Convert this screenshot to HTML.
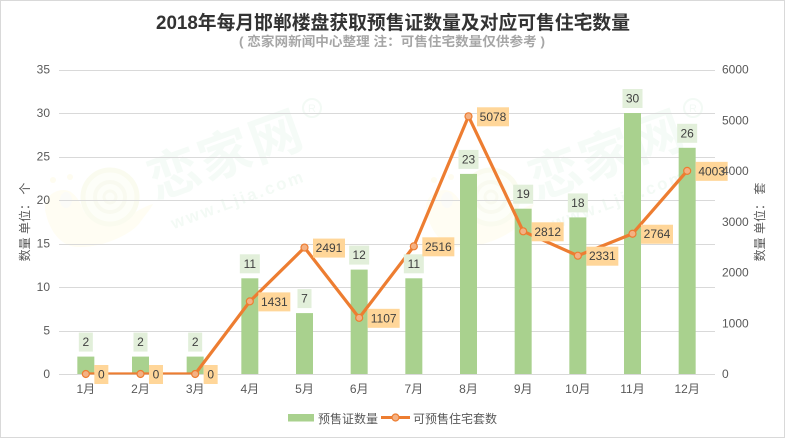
<!DOCTYPE html>
<html lang="zh">
<head>
<meta charset="utf-8">
<title>2018年每月邯郸楼盘获取预售证数量及对应可售住宅数量</title>
<style>
html,body{margin:0;padding:0;background:#fff}
svg{display:block}
text{font-family:"Liberation Sans","Noto Sans CJK SC",sans-serif}
</style>
</head>
<body>
<svg id="chart" xmlns="http://www.w3.org/2000/svg" width="785" height="438" viewBox="0 0 785 438">
<rect x="0.5" y="0.5" width="784" height="437" fill="#fff" stroke="#d9d9d9"/>
<defs>
<g id="wm">
<path d="M64 190 C50 190 42 202 46 214 C50 232 62 247 78 247 C105 248 135 232 141 221 C147 213 152 207 153 204 C145 206 136 212 128 216 Q100 225 84 212 Q76 190 64 190Z" fill="#fffdf3"/>
<circle cx="110" cy="197" r="27" fill="#fdfef8" stroke="#fafbef" stroke-width="5"/>
<circle cx="110" cy="197" r="15" fill="none" stroke="#f9faf0" stroke-width="4"/>
<circle cx="110" cy="197" r="6" fill="none" stroke="#f9faf0" stroke-width="3"/>
<circle cx="53" cy="180" r="3" fill="#fefcf0"/>
<circle cx="70" cy="177" r="3" fill="#fefcf0"/>
<ellipse cx="66" cy="200" rx="6" ry="8" fill="#fbfbf8"/>
<text x="232" y="172" text-anchor="middle" font-size="52" font-weight="700" fill="#f5fbf7" transform="rotate(-20 232 172)" letter-spacing="2">恋家网</text>
<text x="240" y="205" text-anchor="middle" font-size="17" font-weight="700" fill="#f3faf5" letter-spacing="2.4" transform="rotate(-20 240 205)">www.Ljia.com</text>
<circle cx="312" cy="108" r="9" fill="none" stroke="#f3faf5" stroke-width="2"/>
<text x="312" y="112" text-anchor="middle" font-size="11" fill="#f3faf5">R</text>
</g>
<clipPath id="plot-clip"><rect x="59" y="60" width="656" height="314.5"/></clipPath>
</defs>
<use href="#wm"/>
<use href="#wm" x="381"/>
<text x="393" y="29" text-anchor="middle" font-size="19" font-weight="700" fill="#333" textLength="474" lengthAdjust="spacingAndGlyphs">2018年每月邯郸楼盘获取预售证数量及对应可售住宅数量</text>
<text x="392" y="46" text-anchor="middle" font-size="13" font-weight="700" fill="#a6a6a6" textLength="306" lengthAdjust="spacingAndGlyphs">( 恋家网新闻中心整理  注：可售住宅数量仅供参考 )</text>
<g id="grid"></g>
<g id="bars"></g>
<g id="line" clip-path="url(#plot-clip)"></g>
<g id="markers"></g>
<g id="labels"></g>
<g id="axes"></g>
<text transform="translate(29 222) rotate(-90)" text-anchor="middle" font-size="12" fill="#595959">数量 单位： 个</text>
<text transform="translate(764 222) rotate(-90)" text-anchor="middle" font-size="12" fill="#595959">数量 单位： 套</text>
<g>
<rect x="288" y="414" width="26" height="7.5" fill="#a9d18e"/>
<text x="318" y="423" font-size="12" fill="#595959">预售证数量</text>
<line x1="381" y1="417.5" x2="410" y2="417.5" stroke="#ed7d31" stroke-width="3"/>
<circle cx="395.5" cy="417.5" r="3.5" fill="#f4b183" stroke="#ed7d31" stroke-width="1.2"/>
<text x="413" y="423" font-size="12" fill="#595959">可预售住宅套数</text>
</g>
</svg>
<script>
const categories = ['1月','2月','3月','4月','5月','6月','7月','8月','9月','10月','11月','12月'];
const permitCounts = [2,2,2,11,7,12,11,23,19,18,30,26];
const unitCounts = [0,0,0,1431,2491,1107,2516,5078,2812,2331,2764,4003];
const leftTicks = [0,5,10,15,20,25,30,35];
const rightTicks = [0,1000,2000,3000,4000,5000,6000];

const NS = 'http://www.w3.org/2000/svg';
const plotLeft = 59, plotRight = 715, plotTop = 69.5, plotBottom = 374;
const leftMax = 35, rightMax = 6000;
const band = (plotRight - plotLeft) / categories.length;
function xScale(i) { return plotLeft + band * (i + 0.5) - 0.5; }
function yLeft(v) { return plotBottom - v / leftMax * (plotBottom - plotTop); }
function yRight(v) { return plotBottom - v / rightMax * (plotBottom - plotTop); }
function make(tag, attrs, parent, txt) {
  const el = document.createElementNS(NS, tag);
  for (const k in attrs) el.setAttribute(k, attrs[k]);
  if (txt !== undefined) el.textContent = txt;
  parent.appendChild(el);
  return el;
}
const grid = document.getElementById('grid');
const bars = document.getElementById('bars');
const lineG = document.getElementById('line');
const markers = document.getElementById('markers');
const labels = document.getElementById('labels');
const axes = document.getElementById('axes');

leftTicks.forEach(function (t) {
  const y = Math.round(yLeft(t)) + 0.5;
  const gl = make('line', {x1: plotLeft, x2: plotRight, y1: y, y2: y, stroke: '#d9d9d9', 'stroke-width': 1}, grid);
  
  
  const tl = make('text', {x: 50, y: yLeft(t) + 4, 'text-anchor': 'end', 'font-size': 12, fill: '#595959'}, axes, String(t));
  
  
});
rightTicks.forEach(function (t) {
  const tl = make('text', {x: 722, y: yRight(t) + 4, 'font-size': 12, fill: '#595959'}, axes, String(t));
  
  
});
categories.forEach(function (c, i) {
  const tl = make('text', {x: xScale(i), y: 393, 'text-anchor': 'middle', 'font-size': 12, fill: '#595959'}, axes, c);
  
  
});
permitCounts.forEach(function (v, i) {
  const top = yLeft(v);
  const b = make('rect', {x: xScale(i) - 8.5, y: top, width: 17, height: plotBottom - top, fill: '#a9d18e'}, bars);
  
  
});
const pts = unitCounts.map(function (v, i) { return xScale(i) + ',' + yRight(v); }).join(' ');
const pl = make('polyline', {points: pts, fill: 'none', stroke: '#ed7d31', 'stroke-width': 3.2, 'stroke-linejoin': 'miter'}, lineG);


unitCounts.forEach(function (v, i) {
  const m = make('circle', {cx: xScale(i), cy: yRight(v), r: 3.5, fill: '#f4b183', stroke: '#ed7d31', 'stroke-width': 1.2}, markers);
  
  
});
permitCounts.forEach(function (v, i) {
  const s = String(v), w = s.length > 1 ? 20 : 14, top = yLeft(v) - 24;
  const r = make('rect', {x: xScale(i) - w / 2, y: top, width: w, height: 19, fill: '#e2efda'}, labels);
  
  
  const t = make('text', {x: xScale(i), y: top + 13.5, 'text-anchor': 'middle', 'font-size': 12, fill: '#404040'}, labels, s);
  
  
});
unitCounts.forEach(function (v, i) {
  const s = String(v), w = s.length > 1 ? 32 : 14, left = xScale(i) + 8.5, cy = yRight(v) + 0.5;
  const r = make('rect', {x: left, y: cy - 9.5, width: w, height: 19, fill: '#ffd699'}, labels);
  
  
  const t = make('text', {x: left + w / 2, y: cy + 4, 'text-anchor': 'middle', 'font-size': 12, fill: '#404040'}, labels, s);
  
  
});
</script>
</body>
</html>
